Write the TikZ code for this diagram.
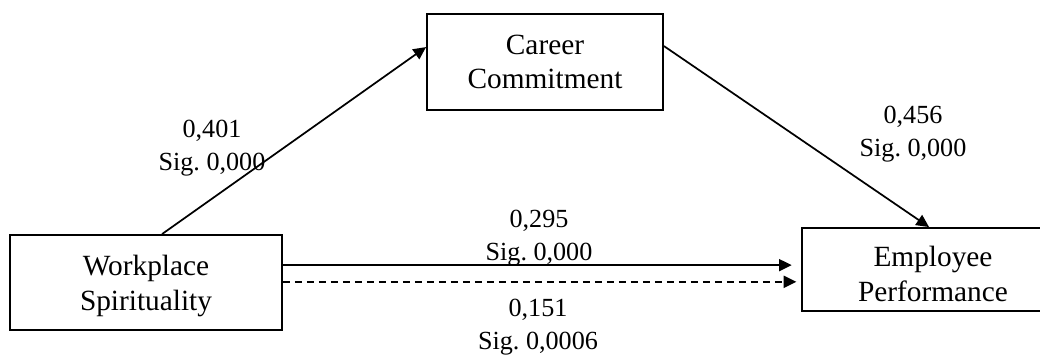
\documentclass[tikz,border=0pt]{standalone}
\usepackage{fontspec}
\setmainfont{Liberation Serif}
\usetikzlibrary{arrows.meta,calc}
\frenchspacing
\begin{document}
\begin{tikzpicture}[x=0.75pt,y=-0.75pt,
  boxtext/.style={inner sep=0pt,align=center,font=\fontsize{22}{26}\selectfont},
  box/.style={boxtext,draw,line width=1.4pt},
  lbl/.style={inner sep=0pt,align=center,font=\fontsize{19.6}{24.8}\selectfont},
  arr/.style={line width=1.3pt,-{Triangle[length=9.5pt,width=9pt]}},
  dasharr/.style={arr,dash pattern=on 5.5pt off 3.5pt}]
\useasboundingbox (0,0) rectangle (1040,356);
\clip (0,0) rectangle (1040,356);
\node[box,minimum width=177pt,minimum height=72pt] (cc) at (545,62) {Career\\Commitment};
\node[box,minimum width=204pt,minimum height=71.25pt] (ws) at (146,282.5) {};
\node[boxtext] (wstext) at ([yshift=-2.5pt]ws.center) {Workplace\\Spirituality};
\node[box,minimum width=196.5pt,minimum height=62.25pt] (ep) at (933,269.5) {};
\node[boxtext] (eptext) at ([yshift=-3.5pt]ep.center) {Employee\\Performance};
\draw[arr] ([xshift=114.75pt]ws.north west) -- ([yshift=-25.5pt]cc.north west);
\draw[arr] ([yshift=-24.75pt]cc.north east) -- ([xshift=96pt]ep.north west);
\draw[arr,shorten >=7pt] ([yshift=13pt]ws.east) -- ([yshift=13pt]ws.east -| ep.west);
\draw[dasharr,shorten >=3.5pt] ([yshift=0.5pt]ws.east) -- ([yshift=0.5pt]ws.east -| ep.west);
\node[lbl] (l1) at (212,148) {0,401\\Sig. 0,000};
\node[lbl] (l2) at (913,134) {0,456\\Sig. 0,000};
\node[lbl] (l3) at (539,238) {0,295\\Sig. 0,000};
\node[lbl] (l4) at (538,327) {0,151\\Sig. 0,0006};
\end{tikzpicture}
\end{document}
